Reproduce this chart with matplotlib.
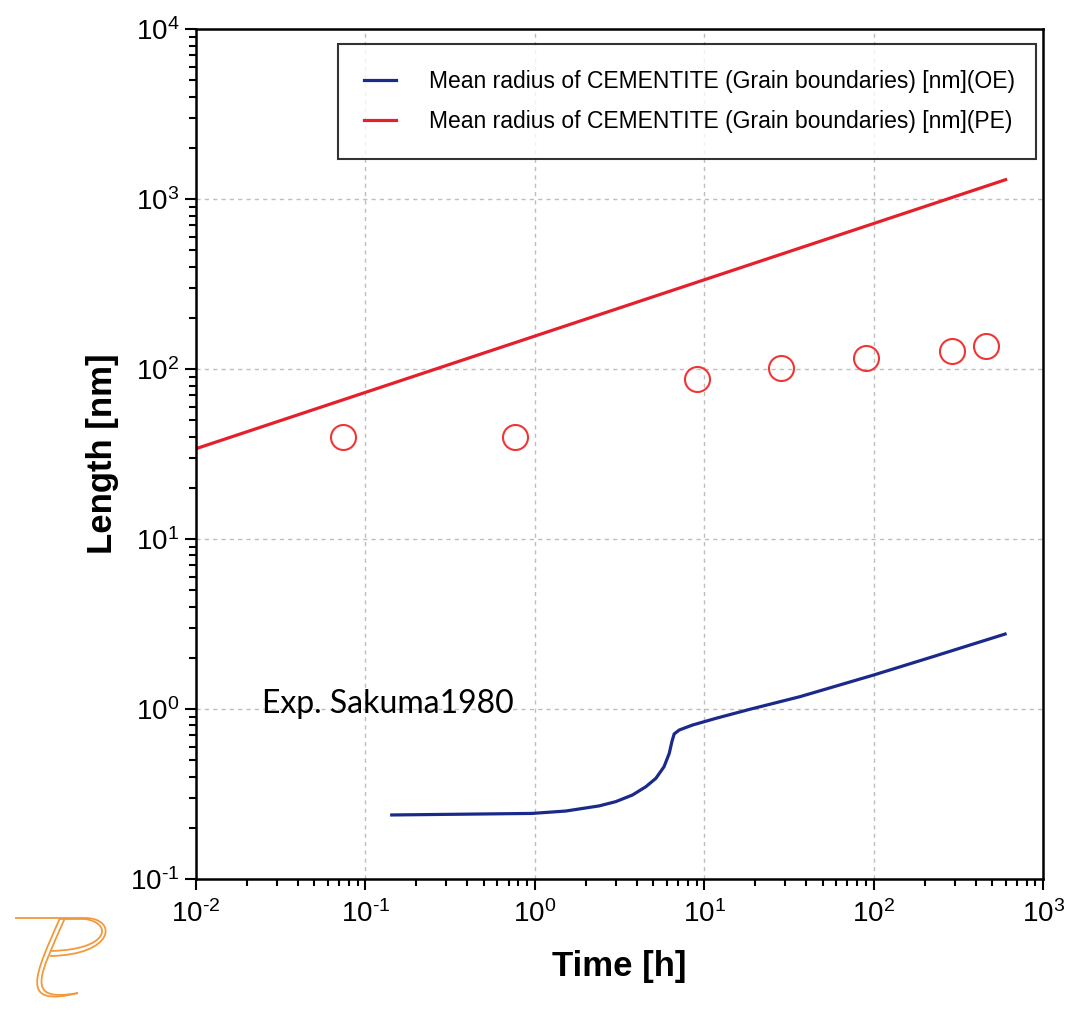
import matplotlib
matplotlib.use("Agg")
import matplotlib.pyplot as plt
from matplotlib.patches import PathPatch
from matplotlib.path import Path
from matplotlib.ticker import FuncFormatter
import numpy as np

# --- data ---
# PE curve (straight on log-log)
pe_time = [0.01, 600.0]
pe_radius = [34.0, 1300.0]

# OE curve
oe_time = [0.143, 0.96, 1.52, 2.39, 3.0, 3.77, 4.52, 5.18, 5.79, 6.21, 6.44, 6.64,
           7.11, 8.53, 11.7, 18.5, 36.5, 100.0, 223.0, 596.0]
oe_radius = [0.238, 0.243, 0.251, 0.269, 0.285, 0.312, 0.349, 0.391, 0.458, 0.548, 0.643, 0.713,
             0.752, 0.805, 0.881, 0.995, 1.18, 1.585, 2.03, 2.76]

# Experimental points (Sakuma 1980)
exp_time = [0.074, 0.76, 9.0, 28.3, 90.0, 290.0, 458.0]
exp_radius = [40.0, 40.0, 87.0, 101.0, 116.0, 128.0, 137.0]

plt.rcParams['mathtext.fontset'] = 'custom'
plt.rcParams['mathtext.rm'] = 'Liberation Sans'
plt.rcParams['mathtext.it'] = 'Liberation Sans'
plt.rcParams['mathtext.bf'] = 'Liberation Sans:bold'
plt.rcParams['font.family'] = 'Liberation Sans'

fig = plt.figure(figsize=(10.71, 10.13), dpi=100)
ax = fig.add_axes([0.183, 0.1323, 0.791, 0.839])

red = '#e3202b'
blue = '#1b2a8a'

ax.plot(oe_time, oe_radius, color=blue, lw=2.3,
        label='Mean radius of CEMENTITE (Grain boundaries) [nm](OE)')
ax.plot(pe_time, pe_radius, color=red, lw=2.3,
        label='Mean radius of CEMENTITE (Grain boundaries) [nm](PE)')
ax.plot(exp_time, exp_radius, linestyle='none', marker='o', markersize=18,
        markerfacecolor='none', markeredgecolor='#f03535', markeredgewidth=1.5)

ax.set_xscale('log')
ax.set_yscale('log')
ax.set_xlim(1e-2, 1e3)
ax.set_ylim(1e-1, 1e4)

def sci(v, pos):
    e = int(round(np.log10(v)))
    return r'$10^{\text{%d}}$' % e

ax.xaxis.set_major_formatter(FuncFormatter(sci))
ax.yaxis.set_major_formatter(FuncFormatter(sci))

ax.grid(True, which='major', color='#bdbdbd', linestyle=(0, (3, 3)), linewidth=1.0)
ax.tick_params(which='both', direction='out', labelsize=20, width=1.5)
ax.tick_params(which='major', length=8)
ax.tick_params(which='minor', length=5)
ax.tick_params(axis='x', which='major', pad=7)
ax.tick_params(axis='y', which='major', pad=4)
for s in ax.spines.values():
    s.set_linewidth(1.8)

ax.set_xlabel('Time [h]', fontsize=25, fontweight='bold', labelpad=16)
ax.set_ylabel('Length [nm]', fontsize=25, fontweight='bold', labelpad=8)

leg = ax.legend(loc='upper left', bbox_to_anchor=(0.168, 0.848, 0.824, 0.134),
                mode='expand', fontsize=16.5, frameon=True, fancybox=False,
                handlelength=1.4, handletextpad=1.45, borderpad=1.12,
                labelspacing=0.75, borderaxespad=0)
leg.get_frame().set_edgecolor('black')
leg.get_frame().set_linewidth(1.5)

ax.text(0.078, 0.206, 'Exp. Sakuma1980', transform=ax.transAxes,
        fontsize=23, family='Lato', va='center', ha='left')

# logo in the lower left corner (pixel coordinates)
def px(x, y):
    return (x / 1071.0, 1 - y / 1013.0)

orange = '#f29a3a'
for d in (0, 5):
    verts = [px(15 if d == 0 else 60, 918 + d * 0.2), px(85, 918 + d * 0.2),
             px(118 - d, 918 + d), px(115 - d, 955 - d), px(50, 956 - d)]
    codes = [Path.MOVETO, Path.LINETO, Path.CURVE4, Path.CURVE4, Path.CURVE4]
    fig.patches.append(PathPatch(Path(verts, codes), fill=False, edgecolor=orange,
                                 lw=1.3, transform=fig.transFigure))
    verts = [px(60 + d, 918), px(35 + d, 975), px(18 + d, 1008 - d), px(78, 993)]
    codes = [Path.MOVETO, Path.CURVE4, Path.CURVE4, Path.CURVE4]
    fig.patches.append(PathPatch(Path(verts, codes), fill=False, edgecolor=orange,
                                 lw=1.3, transform=fig.transFigure))

fig.savefig('out.png', dpi=100)
